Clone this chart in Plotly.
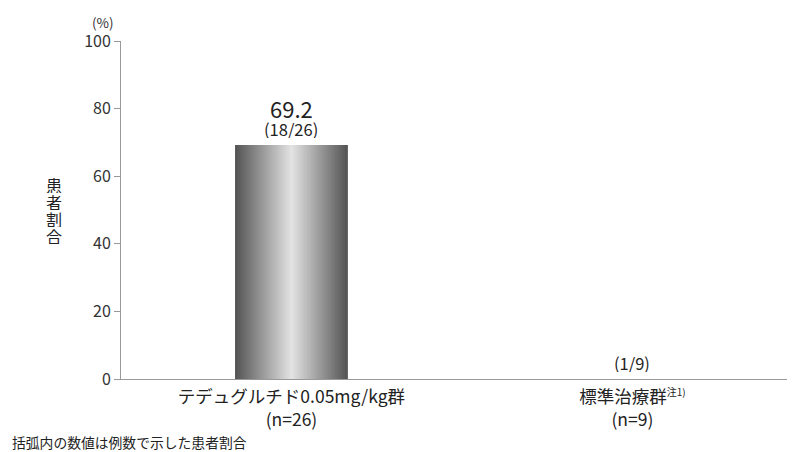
import plotly.graph_objects as go

categories = ["テデュグルチド0.05mg/kg群<br>(n=26)",
              "標準治療群<sup><span style='font-size:10px'>注1)</span></sup><br>(n=9)"]
values = [69.2, 0]
value_labels = ["69.2", ""]
count_labels = ["(18/26)", "(1/9)"]
y_ticks = [0, 20, 40, 60, 80, 100]
y_title_chars = ["患", "者", "割", "合"]

FONT = "Noto Sans CJK JP"
fig = go.Figure()

# gradient bar via overlaid bars of decreasing width
N = 40
W = 0.331
dark = (85, 85, 85)
light = (226, 226, 226)
for i in range(N):
    t = i / (N - 1)
    c = tuple(int(dark[k] + (light[k] - dark[k]) * t) for k in range(3))
    fig.add_trace(go.Bar(
        x=categories, y=values,
        width=W * (1 - i / N),
        marker=dict(color=f"rgb{c}", line=dict(width=0)),
        hoverinfo="skip", showlegend=False,
    ))

for cat, v, vl, cl in zip(categories, values, value_labels, count_labels):
    if vl:
        fig.add_annotation(x=cat, y=v, text=vl, showarrow=False, yanchor="middle",
                           yshift=37, height=22, font=dict(size=22, color="#222", family=FONT))
    fig.add_annotation(x=cat, y=v, text=cl, showarrow=False, yanchor="middle",
                       yshift=16, height=18, font=dict(size=16.5, color="#222", family=FONT))

fig.add_annotation(xref="paper", yref="paper", x=0, y=1, xshift=-18, yshift=19, text="(%)",
                   showarrow=False, xanchor="center", yanchor="middle",
                   font=dict(size=13.5, color="#333", family=FONT))
for j, ch in enumerate(y_title_chars):
    fig.add_annotation(xref="paper", yref="paper", x=0, y=0.5, xshift=-67, yshift=25.5 - 17 * j,
                       text=ch, showarrow=False, xanchor="center", yanchor="middle", height=16,
                       font=dict(size=16, color="#222", family=FONT))
fig.add_annotation(xref="paper", yref="paper", x=0, y=0, xshift=-111, yshift=-63,
                   text="括弧内の数値は例数で示した患者割合",
                   showarrow=False, xanchor="left", yanchor="middle", height=16,
                   font=dict(size=13.8, color="#222", family=FONT))

# page body has an 8px margin: figure is sized/offset accordingly
fig.update_layout(
    width=787, height=444,
    margin=dict(l=113, r=0, t=33, b=73),
    paper_bgcolor="white", plot_bgcolor="white",
    barmode="overlay",
    font=dict(family=FONT, color="#222"),
    xaxis=dict(range=[-0.5, 1.477], showline=True, linecolor="#999", linewidth=1,
               ticks="", tickfont=dict(size=17.5, color="#222", family=FONT), showgrid=False,
               ticklabelstandoff=2),
    yaxis=dict(range=[0, 100], tickvals=y_ticks, showline=True, linecolor="#999", linewidth=1,
               ticks="outside", ticklen=6, tickcolor="#999", showgrid=False, zeroline=False,
               tickfont=dict(size=16, color="#333", family=FONT)),
)

fig.write_html("out.html")
